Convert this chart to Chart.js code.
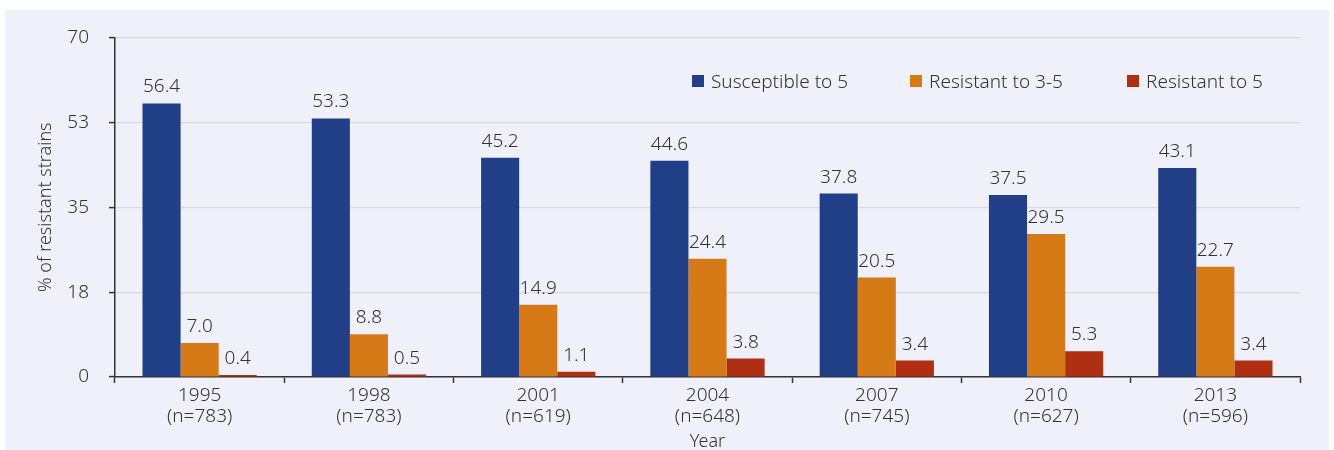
<!DOCTYPE html>
<html><head><meta charset="utf-8">
<script src="https://cdn.jsdelivr.net/npm/chart.js@4.4.0/dist/chart.umd.min.js"></script>
<style>
html,body{margin:0;padding:0;background:#fff;width:1334px;height:450px;overflow:hidden}
#panel{position:absolute;left:5px;top:10px;width:1324px;height:440px;background:#EFF0FA;overflow:hidden}
canvas{display:block;margin-top:-4px}
</style></head><body>
<div id="panel"><canvas id="c" width="1324" height="447"></canvas></div>
<script>
const years = ['1995','1998','2001','2004','2007','2010','2013'];
const sampleSizes = ['(n=783)','(n=783)','(n=619)','(n=648)','(n=745)','(n=627)','(n=596)'];
const susceptible = [56.4, 53.3, 45.2, 44.6, 37.8, 37.5, 43.1];
const resistant35 = [7.0, 8.8, 14.9, 24.4, 20.5, 29.5, 22.7];
const resistant5 = [0.4, 0.5, 1.1, 3.8, 3.4, 5.3, 3.4];
const yTicks = [0, 17.5, 35, 52.5, 70];
const seriesNames = ['Susceptible to 5', 'Resistant to 3-5', 'Resistant to 5'];
const seriesColors = ['#213F87', '#D57A17', '#AE2F12'];

const FONT = "'Noto Sans', 'Open Sans', sans-serif";
const TXT = '#333333';

const valueLabels = {
  id: 'valueLabels',
  afterDatasetsDraw(chart) {
    const ctx = chart.ctx;
    ctx.save();
    ctx.font = '300 19px ' + FONT;
    ctx.fillStyle = TXT;
    ctx.textAlign = 'center';
    ctx.textBaseline = 'alphabetic';
    chart.data.datasets.forEach((ds, i) => {
      const meta = chart.getDatasetMeta(i);
      meta.data.forEach((bar, j) => {
        ctx.fillText(ds.data[j].toFixed(1), bar.x, bar.y - 11);
      });
    });
    ctx.restore();
  }
};

const customLegend = {
  id: 'customLegend',
  afterDraw(chart) {
    const ctx = chart.ctx;
    ctx.save();
    ctx.font = '300 19px ' + FONT;
    ctx.textBaseline = 'alphabetic';
    const starts = [687, 905, 1122];
    chart.data.datasets.forEach((ds, i) => {
      ctx.fillStyle = ds.backgroundColor;
      ctx.fillRect(starts[i], 69, 12, 12);
      ctx.fillStyle = TXT;
      ctx.textAlign = 'left';
      ctx.fillText(ds.label, starts[i] + 19, 82);
    });
    ctx.restore();
  }
};

new Chart(document.getElementById('c'), {
  type: 'bar',
  data: {
    labels: years.map((y, i) => [y, sampleSizes[i]]),
    datasets: [
      {label: seriesNames[0], data: susceptible, backgroundColor: seriesColors[0]},
      {label: seriesNames[1], data: resistant35, backgroundColor: seriesColors[1]},
      {label: seriesNames[2], data: resistant5, backgroundColor: seriesColors[2]}
    ]
  },
  options: {
    responsive: false,
    animation: false,
    devicePixelRatio: 1,
    layout: {padding: {top: 0, right: 29, left: 30, bottom: 0}},
    datasets: {bar: {categoryPercentage: 0.675, barPercentage: 1.0, borderWidth: 0}},
    plugins: {legend: {display: false}, tooltip: {enabled: false}},
    scales: {
      x: {
        grid: {offset: true, drawOnChartArea: false, tickLength: 6, tickColor: '#333', tickWidth: 1.5},
        border: {color: '#333', width: 1.5},
        ticks: {color: TXT, font: {family: FONT, size: 19, weight: 300, lineHeight: 1.1}, padding: 2, maxRotation: 0},
        title: {display: true, text: 'Year', color: TXT, font: {family: FONT, size: 18, weight: 300}, padding: {top: 0, bottom: 0}},
        afterFit(s) { s.height = 76; }
      },
      y: {
        min: 0, max: 70,
        afterBuildTicks(s) { s.ticks = yTicks.map(v => ({value: v})); },
        grid: {color: '#D8D8DE', lineWidth: 1.2, tickLength: 6, tickColor: '#333', tickWidth: 1.5},
        border: {color: '#333', width: 1.5},
        ticks: {color: TXT, font: {family: FONT, size: 19, weight: 300}, padding: 20, callback: v => Math.round(v)},
        title: {display: true, text: '% of resistant strains', color: TXT, font: {family: FONT, size: 18, weight: 300}, padding: {top: 0, bottom: 0}},
        afterFit(s) { s.width = 80; }
      }
    }
  },
  plugins: [valueLabels, customLegend]
});
</script>
</body></html>
